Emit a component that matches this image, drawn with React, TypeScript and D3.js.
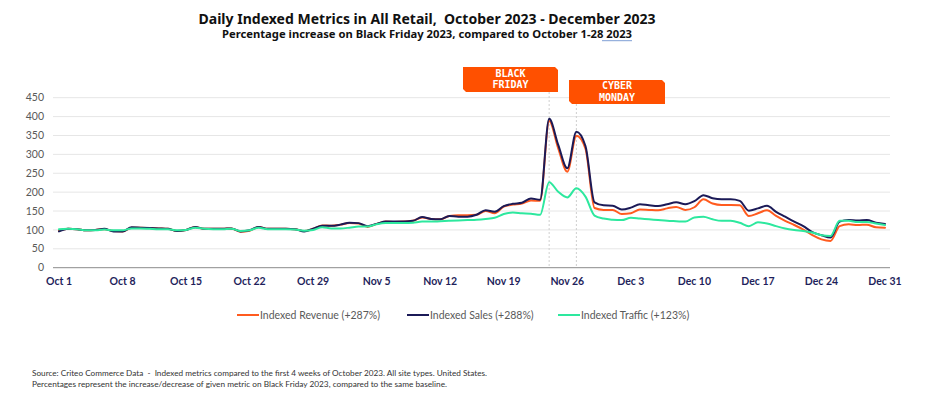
import React from "react";
import * as d3 from "d3";

const revenue = [
  98, 103, 102, 99, 100, 102, 97, 96, 106, 106, 105, 104, 103, 97, 100, 107, 103, 103, 103, 104, 95, 98, 108, 103, 103, 103, 102, 97, 103, 112, 111,
  114, 118, 117, 108, 116, 122, 121, 122, 124, 133, 129, 128, 137, 139, 139, 140, 150, 144, 162, 167, 170, 178, 177, 388, 316, 254, 349, 315, 158, 153,
  153, 142, 144, 154, 153, 152, 157, 161, 153, 160, 181, 170, 166, 166, 165, 137, 144, 152, 137, 124, 113, 101, 86, 75, 71, 110, 115, 113, 114, 107, 106,
];
const sales = [
  96, 103, 102, 99, 100, 103, 96, 96, 107, 106, 105, 104, 103, 97, 100, 108, 103, 103, 103, 104, 96, 99, 108, 103, 103, 103, 102, 96, 103, 111, 111,
  114, 119, 118, 110, 116, 122, 122, 122, 124, 134, 129, 128, 137, 135, 135, 140, 152, 148, 163, 169, 172, 183, 180, 394, 325, 263, 360, 322, 173, 165,
  164, 154, 159, 168, 165, 163, 168, 173, 168, 176, 192, 184, 181, 181, 177, 151, 157, 164, 148, 135, 122, 110, 94, 86, 80, 122, 126, 125, 126, 119, 116,
];
const traffic = [
  102, 103, 102, 99, 99, 101, 99, 99, 104, 104, 103, 102, 102, 99, 100, 106, 103, 102, 102, 103, 97, 99, 106, 102, 102, 102, 101, 98, 100, 107, 104,
  104, 106, 109, 109, 115, 118, 118, 118, 119, 122, 122, 123, 124, 125, 126, 127, 129, 132, 142, 146, 144, 143, 140, 226, 201, 186, 210, 188, 138, 130,
  127, 126, 132, 130, 128, 126, 124, 123, 122, 133, 135, 128, 124, 124, 119, 110, 120, 117, 110, 104, 100, 97, 93, 86, 84, 124, 124, 121, 121, 117, 113,
];
const yTicks = [0, 50, 100, 150, 200, 250, 300, 350, 400, 450];
const xTickLabels = ["Oct 1", "Oct 8", "Oct 15", "Oct 22", "Oct 29", "Nov 5", "Nov 12", "Nov 19", "Nov 26", "Dec 3", "Dec 10", "Dec 17", "Dec 24", "Dec 31"];
const seriesNames = ["Indexed Revenue (+287%)", "Indexed Sales (+288%)", "Indexed Traffic (+123%)"];
const startDate = new Date(2023, 9, 1);
const endDate = new Date(2023, 11, 31);
const dates = d3.timeDay.range(startDate, d3.timeDay.offset(endDate, 1));
const xTickDates = xTickLabels.map((_, i) => d3.timeDay.offset(startDate, i * 7));
const blackFriday = new Date(2023, 10, 24);
const cyberMonday = new Date(2023, 10, 27);

const ORANGE = "#FF5B1F";
const NAVY = "#1B1A57";
const GREEN = "#2DE89E";
const BOX = "#FF5000";

export default function App() {
  const x = d3.scaleTime().domain([startDate, endDate]).range([59, 885]);
  const y = d3.scaleLinear().domain([0, 450]).range([267.7, 97.7]);
  const line = (vals: number[]) =>
    d3
      .line<number>()
      .x((_, i) => x(dates[i]))
      .y((v) => y(v))
      .curve(d3.curveMonotoneX)(vals) || "";

  const boxPath = (x0: number, y0: number, x1: number, y1: number) => {
    const c = 3;
    return `M${x0},${y0}L${x1 - c},${y0}L${x1},${y0 + c}L${x1},${y1}L${x0 + c},${y1}L${x0},${y1 - c}Z`;
  };

  const bfX = x(blackFriday);
  const cmX = x(cyberMonday);
  const series = [
    { vals: revenue, color: ORANGE },
    { vals: sales, color: NAVY },
    { vals: traffic, color: GREEN },
  ];
  const legendX = [237, 407, 558];
  const pre = { whiteSpace: "pre" as const };

  return (
    <svg width={936} height={394} style={{ position: "absolute", left: 0, top: 0, background: "#fff" }}>
      <rect width={936} height={394} fill="#fff" />
      <text x={427} y={23.5} style={pre} textAnchor="middle" fontFamily="'Noto Sans', sans-serif" fontWeight={700} fontSize={14} fill="#111" textLength={457} lengthAdjust="spacingAndGlyphs">
        {"Daily Indexed Metrics in All Retail,  October 2023 - December 2023"}
      </text>
      <text x={427} y={37.5} textAnchor="middle" fontFamily="'Noto Sans', sans-serif" fontWeight={700} fontSize={10.5} fill="#111" textLength={410} lengthAdjust="spacingAndGlyphs">
        Percentage increase on Black Friday 2023, compared to October 1-28 2023
      </text>
      <line x1={602} x2={632} y1={40.7} y2={40.7} stroke="#7f9fd6" strokeWidth={1} />

      {yTicks.map((t) => (
        <g key={t}>
          <line x1={53} x2={890} y1={y(t)} y2={y(t)} stroke={t === 0 ? "#8c8c8c" : "#e6e6e6"} strokeWidth={1} />
          <text x={44} y={y(t) + 3.6} textAnchor="end" fontFamily="Lato, sans-serif" fontSize={10.5} fill="#595959">
            {t}
          </text>
        </g>
      ))}

      {xTickDates.map((d, i) => (
        <text key={i} x={x(d)} y={285} textAnchor="middle" fontFamily="Lato, sans-serif" fontWeight={700} fontSize={10.5} fill="#1f1f5c">
          {xTickLabels[i]}
        </text>
      ))}

      <line x1={bfX} x2={bfX} y1={92} y2={267} stroke="#cfcfcf" strokeWidth={1} strokeDasharray="2,2" />
      <line x1={cmX} x2={cmX} y1={104} y2={267} stroke="#cfcfcf" strokeWidth={1} strokeDasharray="2,2" />

      {series.map((s, i) => (
        <path key={i} d={line(s.vals)} fill="none" stroke={s.color} strokeWidth={2} strokeLinejoin="round" strokeLinecap="round" />
      ))}

      <path d={boxPath(463, 67, 558, 92)} fill={BOX} />
      <text x={510.5} y={77} textAnchor="middle" fontFamily="'DejaVu Sans Mono', monospace" fontWeight={700} fontSize={10} fill="#fff">BLACK</text>
      <text x={510.5} y={88} textAnchor="middle" fontFamily="'DejaVu Sans Mono', monospace" fontWeight={700} fontSize={10} fill="#fff">FRIDAY</text>
      <path d={boxPath(569, 80, 665, 104)} fill={BOX} />
      <text x={617} y={89} textAnchor="middle" fontFamily="'DejaVu Sans Mono', monospace" fontWeight={700} fontSize={10} fill="#fff">CYBER</text>
      <text x={617} y={100.5} textAnchor="middle" fontFamily="'DejaVu Sans Mono', monospace" fontWeight={700} fontSize={10} fill="#fff">MONDAY</text>

      {seriesNames.map((n, i) => (
        <g key={n}>
          <line x1={legendX[i]} x2={legendX[i] + 22} y1={315} y2={315} stroke={series[i].color} strokeWidth={2} />
          <text x={legendX[i] + 23} y={318.5} fontFamily="Lato, sans-serif" fontSize={10.5} fill="#595959">
            {n}
          </text>
        </g>
      ))}

      <text x={32} y={376} style={pre} fontFamily="Lato, sans-serif" fontSize={7.8} fill="#333" textLength={455} lengthAdjust="spacingAndGlyphs">
        {"Source: Criteo Commerce Data  -  Indexed metrics compared to the first 4 weeks of October 2023. All site types. United States."}
      </text>
      <text x={32} y={386.5} fontFamily="Lato, sans-serif" fontSize={7.8} fill="#333" textLength={415} lengthAdjust="spacingAndGlyphs">
        Percentages represent the increase/decrease of given metric on Black Friday 2023, compared to the same baseline.
      </text>
    </svg>
  );
}
